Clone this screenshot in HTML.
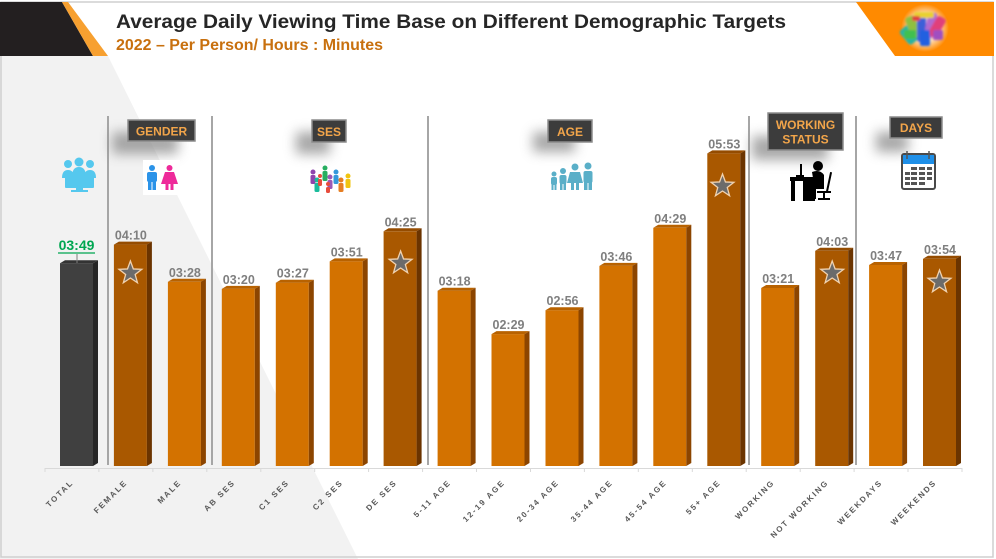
<!DOCTYPE html>
<html><head><meta charset="utf-8"><style>
html,body{margin:0;padding:0;background:#fff;}
svg{display:block;}
text{font-family:"Liberation Sans",Arial,sans-serif;}
</style></head><body>
<svg width="996" height="559" viewBox="0 0 996 559" xmlns="http://www.w3.org/2000/svg">
<defs>
<filter id="blur" x="-50%" y="-50%" width="200%" height="200%"><feGaussianBlur stdDeviation="6"/></filter>
<filter id="blur2" x="-50%" y="-50%" width="200%" height="200%"><feGaussianBlur stdDeviation="1"/></filter>
<radialGradient id="glow" cx="50%" cy="50%" r="50%"><stop offset="0" stop-color="#fff" stop-opacity="1"/><stop offset="0.6" stop-color="#fff" stop-opacity="0.7"/><stop offset="1" stop-color="#fff" stop-opacity="0"/></radialGradient>
</defs>
<rect x="0" y="0" width="996" height="559" fill="#fff"/>
<polygon points="0,56 108,56 358,559 0,559" fill="#F2F2F2"/>
<rect x="1" y="2" width="992" height="555" fill="none" stroke="#CFCFCF" stroke-width="1.5"/>
<polygon points="0,2 62,2 93,56 0,56" fill="#231F20"/>
<polygon points="62,2 68,2 108,56 93,56" fill="#F7A030"/>
<polygon points="856,2 994,2 994,56 895,56" fill="#FF8A00"/>
<circle cx="925" cy="28" r="24" fill="url(#glow)"/>
<g filter="url(#blur2)">
<rect x="903" y="26" width="12" height="18" rx="3" fill="#2BB3A0" transform="rotate(-40 909 35)"/>
<rect x="908" y="16" width="10" height="22" rx="3" fill="#8FBF40" transform="rotate(-20 913 27)"/>
<rect x="917" y="14" width="9" height="28" rx="3" fill="#3E5FD8"/>
<rect x="926" y="12" width="9" height="26" rx="3" fill="#B06AD0" transform="rotate(12 930 25)"/>
<rect x="932" y="16" width="10" height="22" rx="3" fill="#E0407A" transform="rotate(30 937 27)"/>
<rect x="914" y="12" width="20" height="6" rx="2" fill="#E8D030"/>
<rect x="912" y="16" width="8" height="5" rx="2" fill="#E04040"/>
<rect x="920" y="30" width="10" height="16" rx="2" fill="#2060E0"/>
<rect x="904" y="30" width="12" height="9" rx="2" fill="#40C050"/>
<rect x="933" y="30" width="10" height="10" rx="2" fill="#A050C0"/>
</g>
<text x="116" y="28" font-size="19" font-weight="bold" fill="#262626" textLength="670" lengthAdjust="spacingAndGlyphs">Average Daily Viewing Time Base on Different Demographic Targets</text>
<text x="116" y="50" font-size="15.5" font-weight="bold" fill="#C8700E" textLength="267" lengthAdjust="spacingAndGlyphs">2022 – Per Person/ Hours : Minutes</text>

<g stroke="#A6A6A6" stroke-width="2">
<line x1="108" y1="116" x2="108" y2="465"/>
<line x1="212" y1="116" x2="212" y2="465"/>
<line x1="428" y1="116" x2="428" y2="465"/>
<line x1="749" y1="116" x2="749" y2="465"/>
<line x1="856" y1="116" x2="856" y2="465"/>
</g>

<g fill="#8a8a8a" opacity="0.75" filter="url(#blur)">
<rect x="112" y="132" width="66" height="22"/>
<rect x="296" y="132" width="34" height="22"/>
<rect x="533" y="132" width="42" height="20"/>
<rect x="752" y="136" width="76" height="24"/>
<rect x="876" y="132" width="32" height="20"/>
</g>
<g stroke="#8C8C8C" stroke-width="1.5" fill="#3C3C3C">
<rect x="128" y="120" width="67" height="21"/>
<rect x="312" y="120" width="34" height="22"/>
<rect x="548" y="120" width="44" height="22"/>
<rect x="768" y="113" width="75" height="37"/>
<rect x="890" y="117" width="52" height="21"/>
</g>
<g font-size="12" font-weight="bold" fill="#F2A54A" text-anchor="middle">
<text x="161.5" y="135.5">GENDER</text>
<text x="329" y="136">SES</text>
<text x="570" y="136">AGE</text>
<text x="805.5" y="129">WORKING</text>
<text x="805.5" y="143.5">STATUS</text>
<text x="916" y="132">DAYS</text>
</g>

<g fill="#55C8EE">
<circle cx="68" cy="164" r="4"/><circle cx="79" cy="162" r="4.5"/><circle cx="90" cy="164" r="4"/>
<path d="M62,178 q0,-8 6,-8 q6,0 6,8z"/><path d="M72,177 q0,-10 7,-10 q7,0 7,10z"/><path d="M84,178 q0,-8 6,-8 q6,0 6,8z"/>
<rect x="65" y="176" width="29" height="12" rx="1"/>
<rect x="76" y="188" width="7" height="3"/><rect x="71" y="190" width="17" height="2"/>
</g>
<rect x="143" y="160" width="37" height="35" fill="#fff"/>
<g fill="#2B93E8">
<circle cx="152" cy="168" r="3"/><rect x="147" y="172" width="10" height="10" rx="2"/><rect x="148" y="180" width="3.5" height="10"/><rect x="152.5" y="180" width="3.5" height="10"/>
</g>
<g fill="#EE2A9A">
<circle cx="169.5" cy="168" r="3"/><polygon points="165,172 174,172 178,184 161,184"/><rect x="165.5" y="183" width="3" height="7"/><rect x="170.5" y="183" width="3" height="7"/>
</g>
<g>
<g fill="#8E44AD"><circle cx="313" cy="172" r="2.5"/><rect x="310.5" y="175" width="5" height="9" rx="1.5"/></g>
<g fill="#27AE60"><circle cx="325" cy="168" r="2.5"/><rect x="322.5" y="171" width="5" height="10" rx="1.5"/></g>
<g fill="#1ABC9C"><circle cx="317" cy="180" r="2.5"/><rect x="314.5" y="183" width="5" height="9" rx="1.5"/></g>
<g fill="#E74C3C"><circle cx="320" cy="176" r="2"/><rect x="318" y="179" width="4" height="7" rx="1.5"/></g>
<g fill="#3498DB"><circle cx="336" cy="172" r="2.5"/><rect x="333.5" y="175" width="5" height="9" rx="1.5"/></g>
<g fill="#9B59B6"><circle cx="330" cy="177" r="2.5"/><rect x="327.5" y="180" width="5" height="9" rx="1.5"/></g>
<g fill="#E67E22"><circle cx="341" cy="180" r="2.5"/><rect x="338.5" y="183" width="5" height="9" rx="1.5"/></g>
<g fill="#F1C40F"><circle cx="348" cy="176" r="2.5"/><rect x="345.5" y="179" width="5" height="9" rx="1.5"/></g>
<g fill="#E74C3C"><circle cx="328" cy="184" r="2"/><rect x="326" y="187" width="4" height="6" rx="1.5"/></g>
</g>
<g fill="#5AAFC8">
<circle cx="554" cy="174" r="2.5"/><rect x="551" y="177" width="6" height="8" rx="2"/><rect x="551.5" y="184" width="2" height="6"/><rect x="554.5" y="184" width="2" height="6"/>
<circle cx="563" cy="171" r="3"/><rect x="559.5" y="175" width="7" height="9" rx="2"/><rect x="560" y="183" width="2.5" height="7"/><rect x="563.5" y="183" width="2.5" height="7"/>
<circle cx="575" cy="167" r="3.5"/><polygon points="570,172 580,172 583,183 567,183"/><rect x="571" y="182" width="3" height="8"/><rect x="576" y="182" width="3" height="8"/>
<circle cx="588" cy="166" r="3.5"/><rect x="583.5" y="171" width="9" height="12" rx="2"/><rect x="584" y="182" width="3.5" height="8"/><rect x="588.5" y="182" width="3.5" height="8"/>
</g>
<g fill="#000">
<rect x="790" y="177" width="25" height="4"/>
<rect x="791" y="181" width="4" height="20"/>
<rect x="803" y="181" width="12" height="20"/>
<rect x="800" y="164" width="2" height="13"/>
<rect x="796" y="175" width="8" height="2"/>
<circle cx="818" cy="166" r="5"/>
<path d="M812,172 q8,-3 12,3 l0,14 l-10,0 l0,-6 l-9,-3 l0,-3 l8,1z"/>
<rect x="813" y="187" width="3" height="12"/>
<rect x="828" y="172" width="2" height="20" transform="rotate(12 829 182)"/>
<rect x="817" y="191" width="14" height="2"/>
<rect x="823" y="193" width="2" height="6"/>
<rect x="818" y="198" width="12" height="2"/>
</g>
<rect x="902" y="154" width="33" height="35" rx="2" fill="#fff" stroke="#4A4A4A" stroke-width="2"/>
<rect x="903" y="155" width="31" height="9" fill="#1E8FE8"/>
<g fill="none" stroke="#555" stroke-width="1.5"><path d="M907,151 v8"/><path d="M929,151 v8"/></g>
<g fill="#555">
<rect x="911" y="167" width="6" height="3"/><rect x="919" y="167" width="6" height="3"/><rect x="927" y="167" width="5" height="3"/>
<rect x="905" y="172" width="5" height="3"/><rect x="911" y="172" width="6" height="3"/><rect x="919" y="172" width="6" height="3"/><rect x="927" y="172" width="5" height="3"/>
<rect x="905" y="177" width="5" height="3"/><rect x="911" y="177" width="6" height="3"/><rect x="919" y="177" width="6" height="3"/><rect x="927" y="177" width="5" height="3"/>
<rect x="905" y="182" width="5" height="3"/><rect x="911" y="182" width="6" height="3"/><rect x="919" y="182" width="6" height="3"/>
</g>

<g stroke="#D9D9D9" stroke-width="1">
<line x1="45" y1="468.5" x2="962" y2="468.5"/>
<path d="M45,468v4M98.9,468v4M152.9,468v4M206.8,468v4M260.8,468v4M314.7,468v4M368.6,468v4M422.6,468v4M476.5,468v4M530.5,468v4M584.4,468v4M638.3,468v4M692.3,468v4M746.2,468v4M800.2,468v4M854.1,468v4M908,468v4M962,468v4"/>
</g>

<g>
<g transform="translate(60,263.2)"><rect width="33" height="202.8" fill="#404040"/><polygon points="0,0 5,-3 38,-3 33,0" fill="#333"/><polygon points="33,0 38,-3 38,199.8 33,202.8" fill="#262626"/></g>
<g transform="translate(113.9,244.6)"><rect width="33" height="221.4" fill="#A95800"/><polygon points="0,0 5,-3 38,-3 33,0" fill="#954C00"/><polygon points="33,0 38,-3 38,218.4 33,221.4" fill="#6B3400"/></g>
<g transform="translate(167.9,281.8)"><rect width="33" height="184.2" fill="#D37200"/><polygon points="0,0 5,-3 38,-3 33,0" fill="#B86200"/><polygon points="33,0 38,-3 38,181.2 33,184.2" fill="#8C4500"/></g>
<g transform="translate(221.8,288.9)"><rect width="33" height="177.1" fill="#D37200"/><polygon points="0,0 5,-3 38,-3 33,0" fill="#B86200"/><polygon points="33,0 38,-3 38,174.1 33,177.1" fill="#8C4500"/></g>
<g transform="translate(275.8,282.7)"><rect width="33" height="183.3" fill="#D37200"/><polygon points="0,0 5,-3 38,-3 33,0" fill="#B86200"/><polygon points="33,0 38,-3 38,180.3 33,183.3" fill="#8C4500"/></g>
<g transform="translate(329.7,261.4)"><rect width="33" height="204.6" fill="#D37200"/><polygon points="0,0 5,-3 38,-3 33,0" fill="#B86200"/><polygon points="33,0 38,-3 38,201.6 33,204.6" fill="#8C4500"/></g>
<g transform="translate(383.6,231.3)"><rect width="33" height="234.7" fill="#A95800"/><polygon points="0,0 5,-3 38,-3 33,0" fill="#954C00"/><polygon points="33,0 38,-3 38,231.7 33,234.7" fill="#6B3400"/></g>
<g transform="translate(437.6,290.7)"><rect width="33" height="175.3" fill="#D37200"/><polygon points="0,0 5,-3 38,-3 33,0" fill="#B86200"/><polygon points="33,0 38,-3 38,172.3 33,175.3" fill="#8C4500"/></g>
<g transform="translate(491.5,334.1)"><rect width="33" height="131.9" fill="#D37200"/><polygon points="0,0 5,-3 38,-3 33,0" fill="#B86200"/><polygon points="33,0 38,-3 38,128.9 33,131.9" fill="#8C4500"/></g>
<g transform="translate(545.5,310.2)"><rect width="33" height="155.8" fill="#D37200"/><polygon points="0,0 5,-3 38,-3 33,0" fill="#B86200"/><polygon points="33,0 38,-3 38,152.8 33,155.8" fill="#8C4500"/></g>
<g transform="translate(599.4,265.9)"><rect width="33" height="200.1" fill="#D37200"/><polygon points="0,0 5,-3 38,-3 33,0" fill="#B86200"/><polygon points="33,0 38,-3 38,197.1 33,200.1" fill="#8C4500"/></g>
<g transform="translate(653.3,227.8)"><rect width="33" height="238.2" fill="#D37200"/><polygon points="0,0 5,-3 38,-3 33,0" fill="#B86200"/><polygon points="33,0 38,-3 38,235.2 33,238.2" fill="#8C4500"/></g>
<g transform="translate(707.3,153.4)"><rect width="33" height="312.6" fill="#A95800"/><polygon points="0,0 5,-3 38,-3 33,0" fill="#954C00"/><polygon points="33,0 38,-3 38,309.6 33,312.6" fill="#6B3400"/></g>
<g transform="translate(761.2,288)"><rect width="33" height="178" fill="#D37200"/><polygon points="0,0 5,-3 38,-3 33,0" fill="#B86200"/><polygon points="33,0 38,-3 38,175 33,178" fill="#8C4500"/></g>
<g transform="translate(815.2,250.8)"><rect width="33" height="215.2" fill="#A95800"/><polygon points="0,0 5,-3 38,-3 33,0" fill="#954C00"/><polygon points="33,0 38,-3 38,212.2 33,215.2" fill="#6B3400"/></g>
<g transform="translate(869.1,265)"><rect width="33" height="201" fill="#D37200"/><polygon points="0,0 5,-3 38,-3 33,0" fill="#B86200"/><polygon points="33,0 38,-3 38,198 33,201" fill="#8C4500"/></g>
<g transform="translate(923,258.8)"><rect width="33" height="207.2" fill="#A95800"/><polygon points="0,0 5,-3 38,-3 33,0" fill="#954C00"/><polygon points="33,0 38,-3 38,204.2 33,207.2" fill="#6B3400"/></g>
</g>

<g fill="#6B6B6B" stroke="#F0D2B0" stroke-width="1.3">
<polygon transform="translate(130.4,273)" points="0,-12 2.94,-4.05 11.41,-3.71 4.76,1.55 7.05,9.71 0,5 -7.05,9.71 -4.76,1.55 -11.41,-3.71 -2.94,-4.05"/>
<polygon transform="translate(400.6,263)" points="0,-12 2.94,-4.05 11.41,-3.71 4.76,1.55 7.05,9.71 0,5 -7.05,9.71 -4.76,1.55 -11.41,-3.71 -2.94,-4.05"/>
<polygon transform="translate(722.5,186)" points="0,-12 2.94,-4.05 11.41,-3.71 4.76,1.55 7.05,9.71 0,5 -7.05,9.71 -4.76,1.55 -11.41,-3.71 -2.94,-4.05"/>
<polygon transform="translate(832.2,273)" points="0,-12 2.94,-4.05 11.41,-3.71 4.76,1.55 7.05,9.71 0,5 -7.05,9.71 -4.76,1.55 -11.41,-3.71 -2.94,-4.05"/>
<polygon transform="translate(939.5,282)" points="0,-12 2.94,-4.05 11.41,-3.71 4.76,1.55 7.05,9.71 0,5 -7.05,9.71 -4.76,1.55 -11.41,-3.71 -2.94,-4.05"/>
</g>

<text x="76.5" y="250" font-size="14" font-weight="bold" fill="#00A651" text-anchor="middle">03:49</text>
<line x1="58" y1="253" x2="95" y2="253" stroke="#00A651" stroke-width="1.2"/>
<line x1="77" y1="254" x2="77" y2="263" stroke="#7F7F7F" stroke-width="1"/>
<g font-size="12.5" font-weight="bold" fill="#7F7F7F" text-anchor="middle">
<text x="130.9" y="239.6">04:10</text>
<text x="184.9" y="276.8">03:28</text>
<text x="238.8" y="283.9">03:20</text>
<text x="292.8" y="277.7">03:27</text>
<text x="346.7" y="256.4">03:51</text>
<text x="400.6" y="226.3">04:25</text>
<text x="454.6" y="285.7">03:18</text>
<text x="508.5" y="329.1">02:29</text>
<text x="562.5" y="305.2">02:56</text>
<text x="616.4" y="260.9">03:46</text>
<text x="670.3" y="222.8">04:29</text>
<text x="724.3" y="148.4">05:53</text>
<text x="778.2" y="283">03:21</text>
<text x="832.2" y="245.8">04:03</text>
<text x="886.1" y="260">03:47</text>
<text x="940" y="253.8">03:54</text>
</g>

<g font-size="8" font-weight="bold" fill="#595959" text-anchor="end" letter-spacing="1.8">
<text transform="translate(74,483) rotate(-45)">TOTAL</text>
<text transform="translate(127.9,483) rotate(-45)">FEMALE</text>
<text transform="translate(181.9,483) rotate(-45)">MALE</text>
<text transform="translate(235.8,483) rotate(-45)">AB SES</text>
<text transform="translate(289.8,483) rotate(-45)">C1 SES</text>
<text transform="translate(343.7,483) rotate(-45)">C2 SES</text>
<text transform="translate(397.6,483) rotate(-45)">DE SES</text>
<text transform="translate(451.6,483) rotate(-45)">5-11 AGE</text>
<text transform="translate(505.5,483) rotate(-45)">12-19 AGE</text>
<text transform="translate(559.5,483) rotate(-45)">20-34 AGE</text>
<text transform="translate(613.4,483) rotate(-45)">35-44 AGE</text>
<text transform="translate(667.3,483) rotate(-45)">45-54 AGE</text>
<text transform="translate(721.3,483) rotate(-45)">55+ AGE</text>
<text transform="translate(775.2,483) rotate(-45)">WORKING</text>
<text transform="translate(829.2,483) rotate(-45)">NOT WORKING</text>
<text transform="translate(883.1,483) rotate(-45)">WEEKDAYS</text>
<text transform="translate(937,483) rotate(-45)">WEEKENDS</text>
</g>
</svg>
</body></html>
